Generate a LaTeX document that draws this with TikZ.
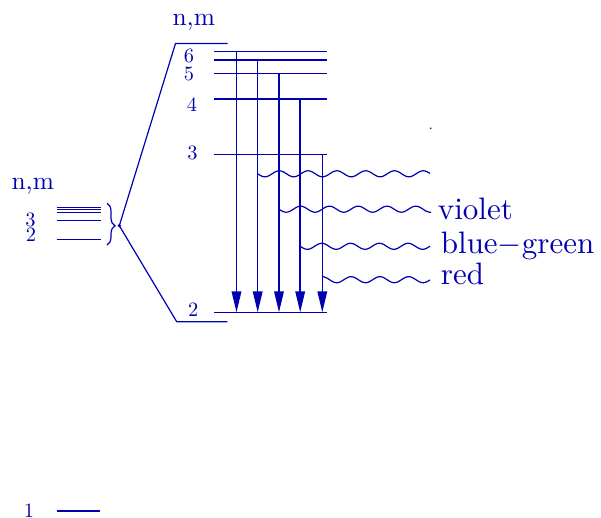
\documentclass[tikz,border=0pt]{standalone}
\usetikzlibrary{arrows.meta,decorations.pathreplacing}
\definecolor{ink}{RGB}{0,0,175}
\newcommand{\bigtxt}[2]{\scalebox{#1}{\fontsize{10}{12}\selectfont #2}}
\begin{document}
\begin{tikzpicture}[x=0.5pt,y=-0.5pt,
  lev/.style={draw=ink,line width=0.7pt},
  fan/.style={draw=ink,line width=0.6pt},
  trans/.style={draw=ink,line width=0.75pt,-{Triangle[length=10.5pt,width=4.8pt]}},
  wave/.style={draw=ink,line width=0.6pt},
  digit/.style={text=ink,font=\fontsize{10.2}{12}\selectfont,inner sep=0pt,anchor=base},
  head/.style={text=ink,inner sep=0pt,anchor=base west},
  colr/.style={text=ink,inner sep=0pt,anchor=base west}]
\useasboundingbox (0,0) rectangle (601,518);

% right-hand levels
\foreach \n/\y in {6a/51.7,6b/60,5/73.7,4/99,3/154.3,2/312.3}{
  \coordinate (L\n w) at (214,\y);
  \coordinate (L\n e) at (327,\y);
  \draw[lev] (L\n w) -- (L\n e);
}
% transitions
\foreach \n/\x in {6a/236.5,6b/257.7,5/279,4/300.2,3/322.3}{
  \coordinate (X\n) at (\x,0);
  \draw[trans] (L\n w -| X\n) -- (L2w -| X\n);
}
% emitted photons
\draw[wave] plot[domain=257.7:430,samples=220,smooth] (\x,{173.8+3*sin((\x-257.7)/28.8*360)});
\draw[wave] plot[domain=279:431,samples=200,smooth] (\x,{209.2+3*sin((\x-279)/28.8*360)});
\draw[wave] plot[domain=300.2:430,samples=180,smooth] (\x,{246.3+3*sin((\x-300.2)/28.8*360)});
\draw[wave] plot[domain=322.3:430,samples=150,smooth] (\x,{279.7-3*cos((\x-322.3)/28.8*360)});
\fill[ink] (430.7,128.3) circle (0.45pt);

\node[colr] (violet) at (437.5,219.3) {\bigtxt{1.55}{violet}};
\node[colr] (bg) at (440.5,253.3) {\bigtxt{1.55}{blue$-$green}};
\node[colr] (red) at (440.5,285) {\bigtxt{1.55}{red}};

% right labels
\node[head] (nmR) at (172.2,25.3) {\bigtxt{1.27}{n,m}};
\node[digit] (d6) at (189,62.6) {6};
\node[digit] (d5) at (189,80.6) {5};
\node[digit] (d4) at (192,111.7) {4};
\node[digit] (d3) at (192.5,159.3) {3};
\node[digit] (d2) at (193.3,316.7) {2};

% left levels
\node[head] (nmL) at (11.2,189.3) {\bigtxt{1.27}{n,m}};
\foreach \y in {207.8,209.4,212.8,220.3,239.5}{
  \draw[lev] (56.7,\y) -- (100.5,\y);
}
\node[digit] (l3) at (30.5,226.7) {3};
\node[digit] (l2) at (31,241.7) {2};
\draw[lev] (56.7,511) -- (100.3,511);
\node[digit] (l1) at (29,517.2) {1};

% brace and fan
\draw[fan,decorate,decoration={brace,amplitude=4pt,aspect=0.54}] (107,203.3) -- (107,245);
\node[circle,fill=ink,inner sep=0pt,minimum size=1.8pt] (hub) at (119.3,225.7) {};
\coordinate (topc) at (175.5,43.5);
\coordinate (topr) at (227.7,43.5);
\coordinate (botc) at (176.7,321.7);
\coordinate (botr) at (227.3,321.7);
\draw[fan] (hub.center) -- (topc) -- (topr);
\draw[fan] (hub.center) -- (botc) -- (botr);
\end{tikzpicture}
\end{document}
